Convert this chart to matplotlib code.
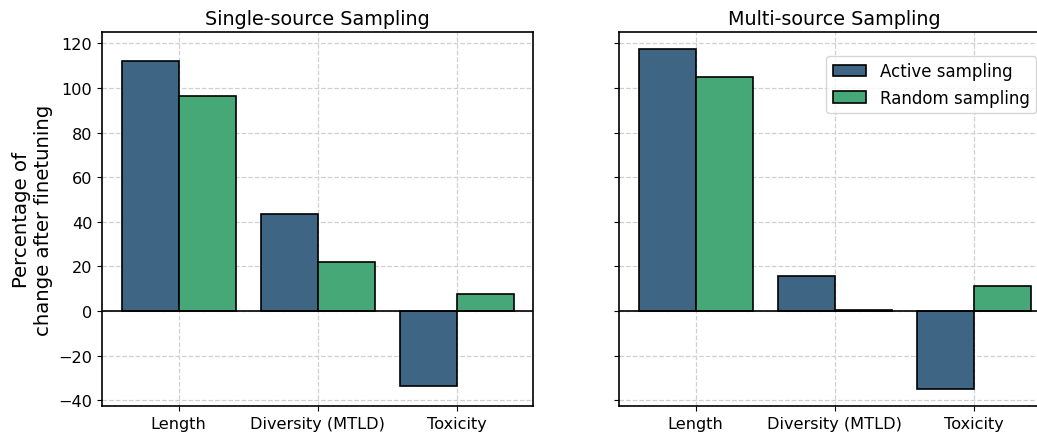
import matplotlib.pyplot as plt
import numpy as np

# data
metrics = ['Length', 'Diversity (MTLD)', 'Toxicity']
single_active = [112, 43.4, -33.6]
single_random = [96.2, 22, 7.8]
multi_active = [117.2, 15.8, -34.8]
multi_random = [104.8, 0.7, 11.3]

col_active = '#3e6583'
col_random = '#46a876'

fig = plt.figure(figsize=(10.37, 4.35), dpi=100)
ax1 = fig.add_axes([0.0984, 0.0644, 0.4156, 0.8596])
ax2 = fig.add_axes([0.597, 0.0644, 0.4156, 0.8596], sharey=ax1)

x = np.arange(len(metrics))
w = 0.41

for ax, act, rnd, title in [(ax1, single_active, single_random, 'Single-source Sampling'),
                            (ax2, multi_active, multi_random, 'Multi-source Sampling')]:
    ax.set_axisbelow(True)
    ax.grid(True, linestyle='--', color='#d0d0d0', linewidth=0.9)
    ax.bar(x - w / 2, act, w, color=col_active, edgecolor='black', linewidth=1.2, label='Active sampling')
    ax.bar(x + w / 2, rnd, w, color=col_random, edgecolor='black', linewidth=1.2, label='Random sampling')
    ax.axhline(0, color='black', linewidth=1.2)
    ax.set_xticks(x)
    ax.set_xticklabels(metrics, fontsize=11.6)
    ax.set_xlim(-0.55, 2.55)
    ax.set_title(title, fontsize=13.8)
    ax.tick_params(axis='y', labelsize=11.6)
    for s in ax.spines.values():
        s.set_linewidth(1.2)

ax1.set_ylim(-42.5, 125)
ax1.set_yticks(range(-40, 121, 20))
ax1.set_ylabel('Percentage of\nchange after finetuning', fontsize=14.2)
plt.setp(ax2.get_yticklabels(), visible=False)
ax2.legend(loc='upper right', fontsize=12, bbox_to_anchor=(0.968, 0.937), borderaxespad=0)

fig.savefig('out.png', dpi=100)
